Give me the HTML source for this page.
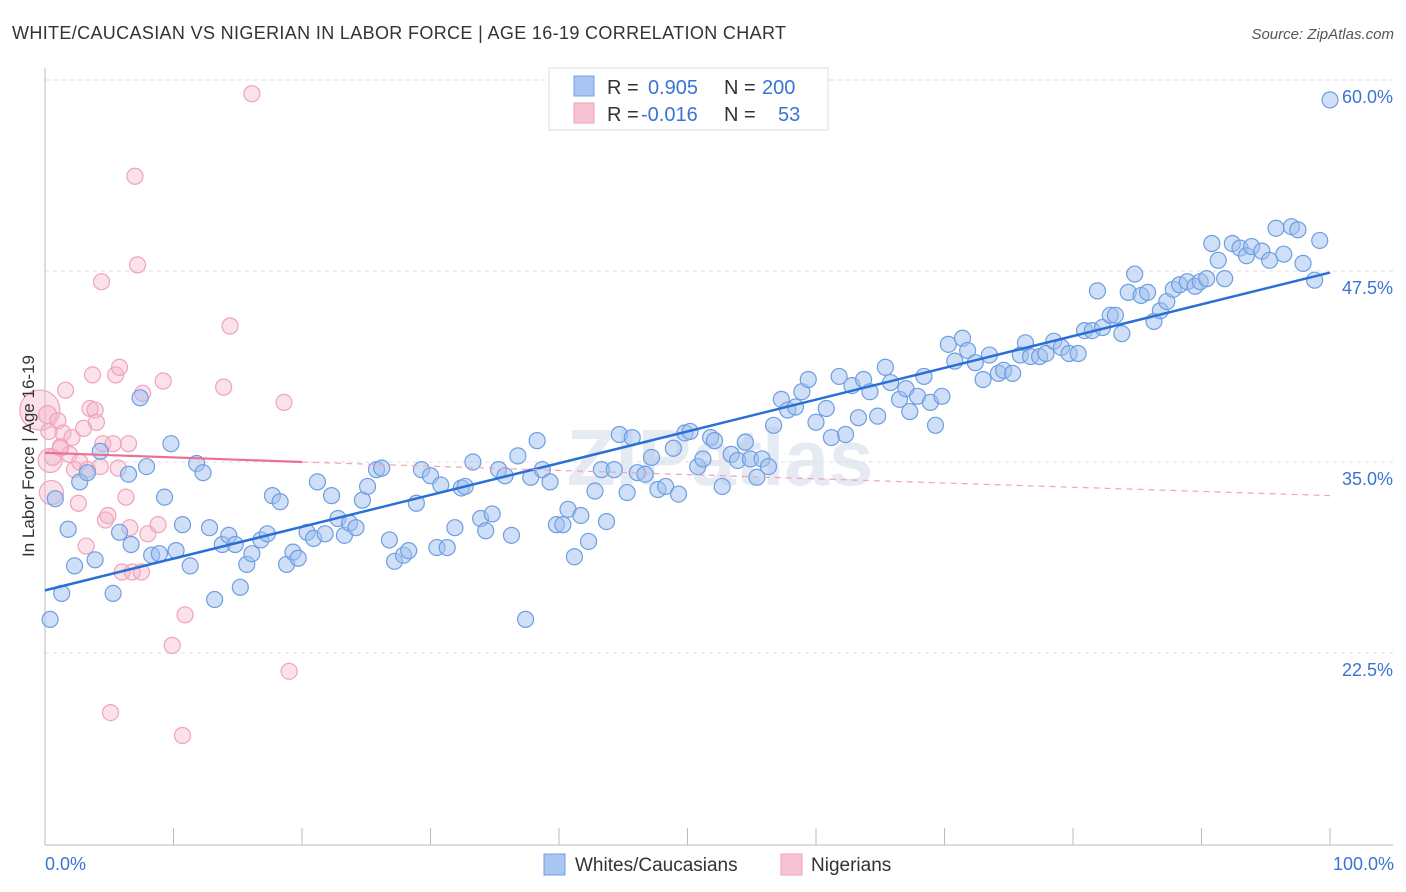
<!DOCTYPE html>
<html><head><meta charset="utf-8">
<style>
body{margin:0;background:#fff;font-family:"Liberation Sans",sans-serif;}
svg{display:block}
</style></head>
<body>
<svg id="chart" width="1406" height="892">
<text x="12" y="39" font-size="18" letter-spacing="0.35" fill="#333">WHITE/CAUCASIAN VS NIGERIAN IN LABOR FORCE | AGE 16-19 CORRELATION CHART</text>
<text x="1394" y="39" font-size="15" fill="#555" font-style="italic" text-anchor="end">Source: ZipAtlas.com</text>
<text x="720" y="485" font-size="80" fill="#e6ebf3" text-anchor="middle" font-weight="bold">ZIPatlas</text>
<g id="grid"></g>
<g id="axes"></g>
<g id="pink"></g>
<g id="blue"></g>
<g id="lines"></g>
<text transform="translate(34,456) rotate(-90)" font-size="17" fill="#333" text-anchor="middle">In Labor Force | Age 16-19</text>
<text x="45" y="870" font-size="18" fill="#3b73d4">0.0%</text>
<text x="1394" y="870" font-size="18" fill="#3b73d4" text-anchor="end">100.0%</text>
<g>
<rect x="549" y="68" width="279" height="62" fill="#fff" stroke="#ddd"/>
<rect x="574" y="76" width="20" height="20" fill="#a9c6f2" stroke="#6f9fe0"/>
<rect x="574" y="103" width="20" height="20" fill="#f8c4d4" stroke="#f0a0b8"/>
<text y="94" font-size="20" fill="#333"><tspan x="607">R =</tspan><tspan x="648" fill="#3b73d4">0.905</tspan><tspan x="724">N =</tspan><tspan x="762" fill="#3b73d4">200</tspan></text>
<text y="121" font-size="20" fill="#333"><tspan x="607">R =</tspan><tspan x="641" fill="#3b73d4">-0.016</tspan><tspan x="724">N =</tspan><tspan x="778" fill="#3b73d4">53</tspan></text>
</g>
<g>
<rect x="544" y="854" width="21" height="21" fill="#a9c6f2" stroke="#6f9fe0"/>
<text x="575" y="871" font-size="19" fill="#333">Whites/Caucasians</text>
<rect x="781" y="854" width="21" height="21" fill="#f8c4d4" stroke="#f0a0b8"/>
<text x="811" y="871" font-size="19" fill="#333">Nigerians</text>
</g>
</svg>
<script>
const yTicks=[60,47.5,35,22.5];
const yTickLabels=["60.0%","47.5%","35.0%","22.5%"];
const xTicks=[0,10,20,30,40,50,60,70,80,90,100];
const blueX=[0.4,0.8,1.3,1.8,2.3,2.7,3.3,3.9,4.3,5.3,5.8,6.5,6.7,7.4,7.9,8.3,8.9,9.3,9.8,10.2,10.7,11.3,11.8,12.3,12.8,13.2,13.8,14.3,14.8,15.2,15.7,16.1,16.8,17.3,17.7,18.3,18.8,19.3,19.7,20.4,20.9,21.2,21.8,22.3,22.8,23.3,23.7,24.2,24.7,25.1,25.8,26.2,26.8,27.2,27.9,28.3,28.9,29.3,30.0,30.5,30.8,31.3,31.9,32.4,32.7,33.3,33.9,34.3,34.8,35.3,35.8,36.3,36.8,37.4,37.8,38.3,38.7,39.3,39.8,40.3,40.7,41.2,41.7,42.3,42.8,43.3,43.7,44.3,44.7,45.3,45.7,46.1,46.7,47.2,47.7,48.3,48.9,49.3,49.8,50.2,50.8,51.2,51.8,52.1,52.7,53.4,53.9,54.5,54.9,55.4,55.8,56.3,56.7,57.3,57.8,58.4,58.9,59.4,60.0,60.8,61.2,61.8,62.3,62.8,63.3,63.7,64.2,64.8,65.4,65.8,66.5,67.0,67.3,67.9,68.4,68.9,69.3,69.8,70.3,70.8,71.4,71.8,72.4,73.0,73.5,74.2,74.6,75.3,75.9,76.3,76.7,77.4,77.9,78.5,79.1,79.7,80.4,80.9,81.5,81.9,82.3,82.9,83.3,83.8,84.3,84.8,85.3,85.8,86.3,86.8,87.3,87.8,88.3,88.9,89.5,89.9,90.4,90.8,91.3,91.8,92.4,93.0,93.5,93.9,94.7,95.3,95.8,96.4,97.0,97.5,97.9,98.8,99.2,100];
const blueY=[24.7,32.6,26.4,30.6,28.2,33.7,34.3,28.6,35.7,26.4,30.4,34.2,29.6,39.2,34.7,28.9,29.0,32.7,36.2,29.2,30.9,28.2,34.9,34.3,30.7,26.0,29.6,30.2,29.6,26.8,28.3,29.0,29.9,30.3,32.8,32.4,28.3,29.1,28.7,30.4,30.0,33.7,30.3,32.8,31.3,30.2,31.0,30.7,32.5,33.4,34.5,34.6,29.9,28.5,28.9,29.2,32.3,34.5,34.1,29.4,33.5,29.4,30.7,33.3,33.4,35.0,31.3,30.5,31.6,34.5,34.1,30.2,35.4,24.7,34.0,36.4,34.5,33.7,30.9,30.9,31.9,28.8,31.5,29.8,33.1,34.5,31.1,34.5,36.8,33.0,36.6,34.3,34.2,35.3,33.2,33.4,35.9,32.9,36.9,37.0,34.7,35.2,36.6,36.4,33.4,35.5,35.1,36.3,35.2,34.0,35.2,34.7,37.4,39.1,38.4,38.6,39.6,40.4,37.6,38.5,36.6,40.6,36.8,40.0,37.9,40.4,39.6,38.0,41.2,40.2,39.1,39.8,38.3,39.3,40.6,38.9,37.4,39.3,42.7,41.6,43.1,42.3,41.5,40.4,42.0,40.8,41.0,40.8,42.0,42.8,41.9,41.9,42.1,42.9,42.5,42.1,42.1,43.6,43.6,46.2,43.8,44.6,44.6,43.4,46.1,47.3,45.9,46.1,44.2,44.9,45.5,46.3,46.6,46.8,46.5,46.8,47.0,49.3,48.2,47.0,49.3,49.0,48.5,49.1,48.8,48.2,50.3,48.6,50.4,50.2,48.0,46.9,49.5,58.7];
const pinkX=[-0.4,0.2,0.4,0.5,1.0,1.2,1.4,1.6,1.9,2.1,2.3,2.6,2.7,3.0,3.2,3.3,3.5,3.7,3.9,4.0,4.3,4.4,4.5,4.7,4.9,5.1,5.3,5.5,5.7,5.8,6.0,6.3,6.5,6.6,6.8,7.0,7.2,7.5,7.6,8.0,8.8,9.2,9.9,10.7,10.9,13.9,14.4,16.1,18.6,19.0,0.3,0.6,1.2];
const pinkY=[38.4,38.1,35.1,33.0,37.7,35.9,36.9,39.7,35.5,36.6,34.5,32.3,35.0,37.2,29.5,34.5,38.5,40.7,38.4,37.6,34.7,46.8,36.2,31.2,31.5,18.6,36.2,40.7,34.6,41.2,27.8,32.7,36.2,30.7,27.8,53.7,47.9,27.8,39.5,30.3,30.9,40.3,23.0,17.1,25.0,39.9,43.9,59.1,38.9,21.3,37.0,35.3,36.0];
const pinkR=[20,9,12,12,8,8,8,8,8,8,8,8,8,8,8,8,8,8,8,8,8,8,8,8,8,8,8,8,8,8,8,8,8,8,8,8,8,8,8,8,8,8,8,8,8,8,8,8,8,8,8,8,8];
const blueTrend=[26.6,47.4];
const pinkTrend=[35.6,35.0,32.8];
const NS="http://www.w3.org/2000/svg";
const X0=45,X1=1330,YTOP=80,YPX=15.28;
function sx(v){return X0+(X1-X0)*v/100;}
function sy(v){return YTOP+(60-v)*YPX;}
function mk(tag,attrs,parent){const e=document.createElementNS(NS,tag);for(const k in attrs)e.setAttribute(k,attrs[k]);document.getElementById(parent).appendChild(e);return e;}
yTicks.forEach((t,i)=>{
 const l=mk('line',{x1:45,x2:1393,y1:sy(t),y2:sy(t),stroke:'#ddd','stroke-dasharray':'4,4'},'grid');
 
 
 const tx=mk('text',{x:1393,y:sy(t)+23,'font-size':18,fill:'#3b73d4','text-anchor':'end'},'grid');
 tx.textContent=yTickLabels[i];
 
 
});
const ax=mk('line',{x1:45,x2:1393,y1:845,y2:845,stroke:'#bbb'},'axes');


const ay=mk('line',{x1:45,x2:45,y1:68,y2:845,stroke:'#bbb'},'axes');


xTicks.forEach(t=>{
 const l=mk('line',{x1:sx(t),x2:sx(t),y1:828,y2:845,stroke:'#bbb'},'axes');
 
 
});
pinkX.forEach((x,i)=>{
 const c=mk('circle',{cx:sx(x),cy:sy(pinkY[i]),r:pinkR[i],fill:'rgba(246,180,202,0.4)',stroke:'#f0a3bb','stroke-width':1.2},'pink');
 
 
});
blueX.forEach((x,i)=>{
 const c=mk('circle',{cx:sx(x),cy:sy(blueY[i]),r:8,fill:'rgba(160,192,240,0.5)',stroke:'#6e9ee2','stroke-width':1.2},'blue');
 
 
});
const bl=mk('line',{x1:sx(0),y1:sy(blueTrend[0]),x2:sx(100),y2:sy(blueTrend[1]),stroke:'#2a6fd6','stroke-width':2.5},'lines');


const pl=mk('line',{x1:sx(0),y1:sy(pinkTrend[0]),x2:sx(20),y2:sy(pinkTrend[1]),stroke:'#ec6f95','stroke-width':2.2},'lines');


const pd=mk('line',{x1:sx(20),y1:sy(pinkTrend[1]),x2:sx(100),y2:sy(pinkTrend[2]),stroke:'#f0a3bb','stroke-width':1.2,'stroke-dasharray':'6,5'},'lines');


</script>
</body></html>
